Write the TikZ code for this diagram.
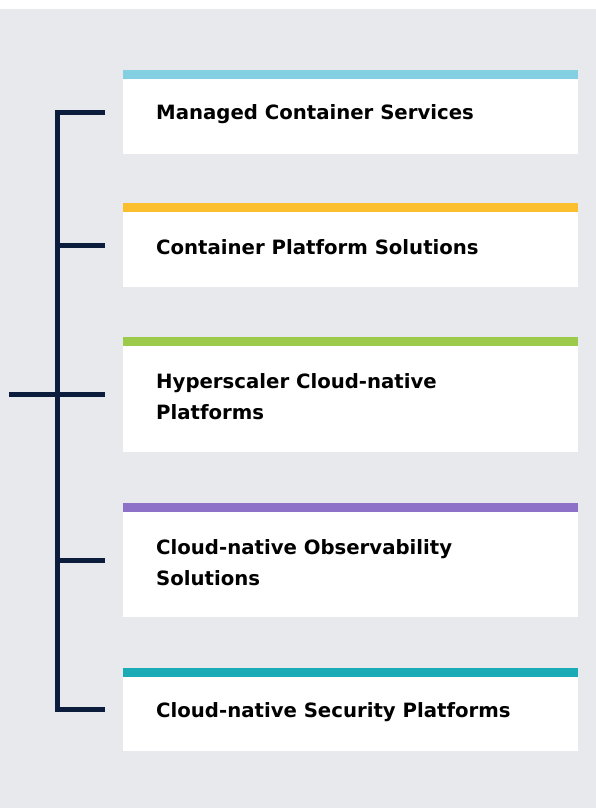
\documentclass[tikz,border=0pt]{standalone}
\usepackage{fontspec}
\setmainfont{DejaVu Sans}
\definecolor{pagegray}{HTML}{E8E9ED}
\definecolor{navy}{HTML}{0B1C3D}
\definecolor{skyblue}{HTML}{82D0E2}
\definecolor{amber}{HTML}{FBBE2C}
\definecolor{leaf}{HTML}{9CCB4B}
\definecolor{lilac}{HTML}{8D70C7}
\definecolor{teal}{HTML}{1BABB6}
\tikzset{
    card/.style={fill=white,minimum width=455pt,inner sep=0pt,anchor=north west},
    cardtext/.style={anchor=west,align=left,inner sep=0pt,
        font=\fontsize{19.7}{31}\selectfont\bfseries},
    bracket/.style={draw=navy,line width=5pt,line join=miter}
}
\begin{document}
\begin{tikzpicture}[x=1pt,y=-1pt]
    \useasboundingbox (0,0) rectangle (596,808);
    \fill[pagegray] (0,9) rectangle (596,808);
    % cards with a coloured strip on top
    \foreach \n/\top/\h/\col/\txt in {
        1/70/84/skyblue/{Managed Container Services},
        2/203/84/amber/{Container Platform Solutions},
        3/337/115/leaf/{Hyperscaler Cloud-native\\Platforms},
        4/503/114/lilac/{Cloud-native Observability\\Solutions},
        5/668/83/teal/{Cloud-native Security Platforms}}{
            \node[card,minimum height=\h pt] (box\n) at (123,\top) {};
            \fill[\col] (box\n.north west) rectangle ([yshift=-8.5pt]box\n.north east);
            \node[cardtext] (txt\n) at ([xshift=33pt,yshift=-2pt]box\n.west) {\txt};
            \coordinate (tip\n) at ([xshift=-18pt]box\n.west);
        }
    % bracket joining the cards
    \coordinate (spine) at (57.5,0);
    \coordinate (arm) at (9,0);
    \draw[bracket] (tip1) -- (tip1 -| spine) -- (tip5 -| spine) -- (tip5);
    \draw[bracket] (tip2 -| spine) -- (tip2);
    \draw[bracket] (tip3 -| arm) -- (tip3);
    \draw[bracket] (tip4 -| spine) -- (tip4);
\end{tikzpicture}
\end{document}
